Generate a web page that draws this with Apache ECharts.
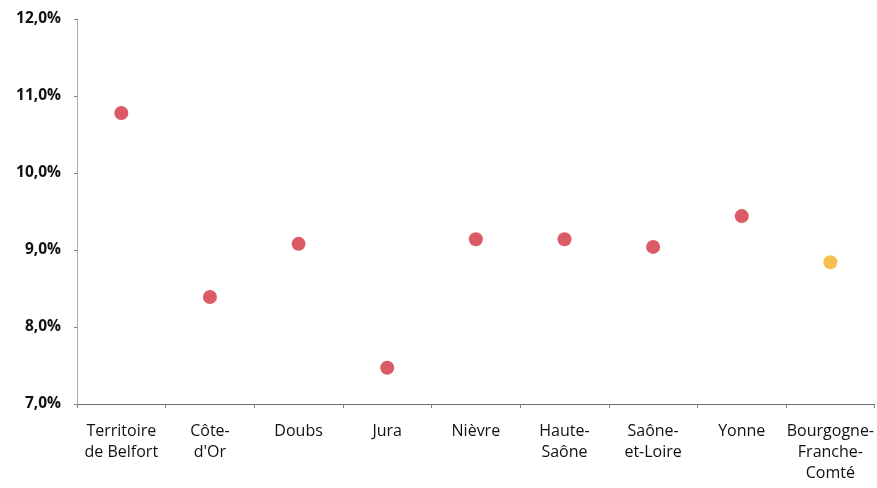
<!DOCTYPE html>
<html>
<head>
<meta charset="utf-8">
<script src="https://cdn.jsdelivr.net/npm/echarts@6/dist/echarts.min.js"></script>
<style>
  html, body { margin: 0; padding: 0; background: #fff; }
  #chart { width: 877px; height: 488px; }
</style>
</head>
<body>
<div id="chart"></div>
<script>
// Departments and the regional total
const categories = [
  'Territoire\nde Belfort', 'Côte-\nd\'Or', 'Doubs', 'Jura', 'Nièvre',
  'Haute-\nSaône', 'Saône-\net-Loire', 'Yonne', 'Bourgogne-\nFranche-\nComté'
];
// Rate in percent per area
const values = [10.78, 8.39, 9.08, 7.47, 9.14, 9.14, 9.04, 9.44, 8.84];
// The last entry is the region as a whole
const isRegion = [false, false, false, false, false, false, false, false, true];
const yTicks = [7, 8, 9, 10, 11, 12];

const deptColor = '#dc5a66';
const regionColor = '#f5c04f';

const chart = echarts.init(document.getElementById('chart'));
chart.setOption({
  animation: false,
  grid: { left: 77, right: 2, top: 19, bottom: 84 },
  xAxis: {
    type: 'category',
    data: categories,
    axisLine: { lineStyle: { color: '#707070', width: 1 } },
    axisTick: { show: true, length: 4, lineStyle: { color: '#808080' } },
    axisLabel: {
      color: '#111', fontFamily: 'Open Sans', fontSize: 16,
      lineHeight: 21, margin: 17, interval: 0
    }
  },
  yAxis: {
    type: 'value',
    min: yTicks[0],
    max: yTicks[yTicks.length - 1],
    interval: 1,
    axisLine: { show: true, lineStyle: { color: '#a8a8a8', width: 1 } },
    axisTick: { show: true, length: 3, lineStyle: { color: '#808080' } },
    splitLine: { show: false },
    axisLabel: {
      color: '#111', fontFamily: 'Open Sans', fontSize: 15.5, fontWeight: 'bold',
      margin: 16,
      formatter: v => v.toFixed(1).replace('.', ',') + '%'
    }
  },
  series: [{
    type: 'scatter',
    symbolSize: 14,
    data: values.map((v, i) => ({
      value: v,
      itemStyle: { color: isRegion[i] ? regionColor : deptColor, opacity: 1 }
    }))
  }]
});
</script>
</body>
</html>
